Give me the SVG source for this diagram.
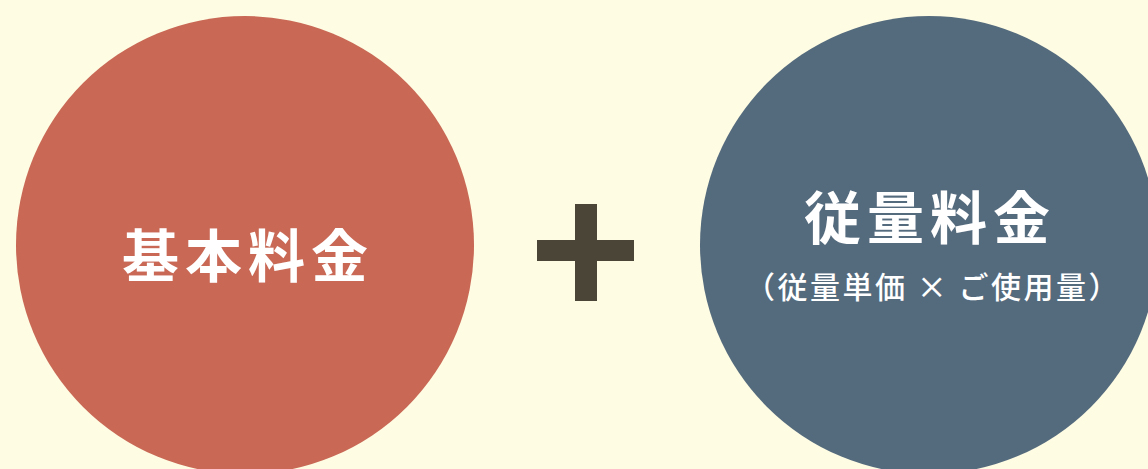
<svg xmlns="http://www.w3.org/2000/svg" width="1148" height="469" viewBox="0 0 1148 469">
<style>
.t{font-family:"Noto Sans CJK JP","Noto Sans",sans-serif;fill:#ffffff;text-anchor:middle}
.big{font-size:57px;font-weight:700;letter-spacing:6px}
.sub{font-size:30px;font-weight:500;letter-spacing:2.5px}
</style>
<rect width="1148" height="469" fill="#FEFCE3"/>
<g id="basic">
<circle cx="245" cy="245" r="229" fill="#C86855"/>
<text class="t big" x="248" y="277">基本料金</text>
</g>
<g id="plus">
<rect x="537" y="240" width="97" height="21" fill="#4B4538"/>
<rect x="575" y="204" width="22" height="97" fill="#4B4538"/>
</g>
<g id="usage">
<circle cx="929" cy="245" r="229" fill="#546A7D"/>
<text class="t big" x="930" y="239">従量料金</text>
<text class="t sub" x="933" y="298">（従量単価 × ご使用量）</text>
</g>
<g id="connectors"/>
</svg>
